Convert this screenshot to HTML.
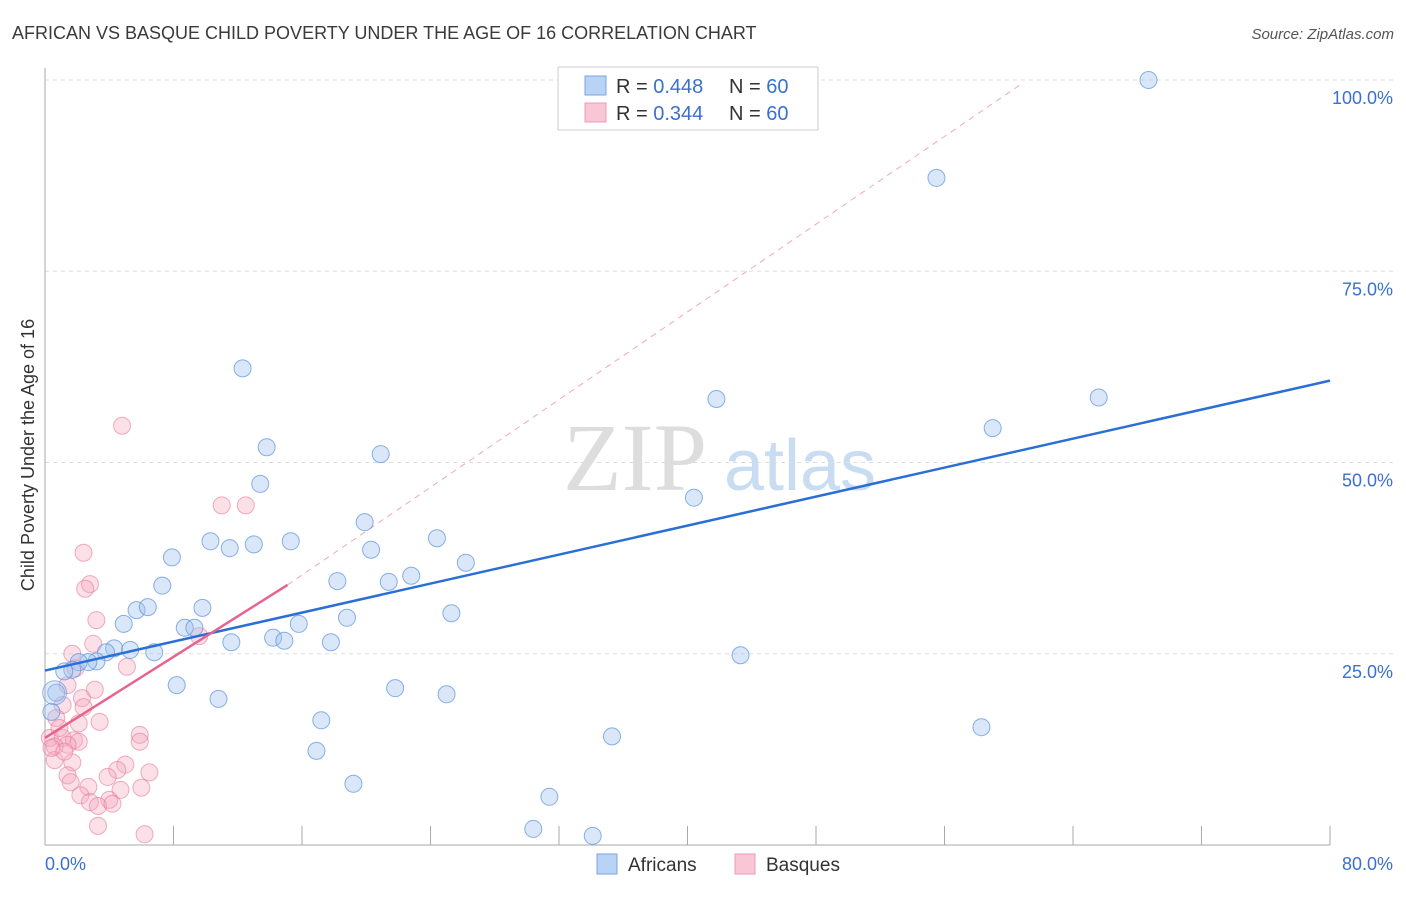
<!DOCTYPE html>
<html><head><meta charset="utf-8"><style>
body{margin:0;background:#fff;font-family:"Liberation Sans",sans-serif;}
</style></head><body>
<svg width="1406" height="892" xmlns="http://www.w3.org/2000/svg">
<text x="12" y="39" font-size="18" fill="#3a3a3a">AFRICAN VS BASQUE CHILD POVERTY UNDER THE AGE OF 16 CORRELATION CHART</text>
<text x="1394" y="39" font-size="15" fill="#555" font-style="italic" text-anchor="end">Source: ZipAtlas.com</text>
<g>
<text x="635" y="490" font-size="96" font-family="Liberation Serif,serif" fill="#ddd" text-anchor="middle">ZIP</text>
<text x="800" y="490" font-size="72" fill="#c8dcf2" text-anchor="middle">atlas</text>
</g>
<g id="grid"></g>
<g id="axes"></g>
<text transform="translate(34,455) rotate(-90)" font-size="18" fill="#333" text-anchor="middle">Child Poverty Under the Age of 16</text>
<g id="marks"></g>
<g>
<rect x="558" y="67" width="260" height="63" fill="#fff" stroke="#ccc"/>
<rect x="585" y="76" width="21" height="19" fill="#b9d3f5" stroke="#7aa6e0"/>
<rect x="585" y="103" width="21" height="19" fill="#f9c6d5" stroke="#ec9bb5"/>
<text x="616" y="93" font-size="20" fill="#333">R = <tspan fill="#3a70d0">0.448</tspan></text>
<text x="729" y="93" font-size="20" fill="#333">N = <tspan fill="#3a70d0">60</tspan></text>
<text x="616" y="120" font-size="20" fill="#333">R = <tspan fill="#3a70d0">0.344</tspan></text>
<text x="729" y="120" font-size="20" fill="#333">N = <tspan fill="#3a70d0">60</tspan></text>
</g>
<g>
<rect x="597" y="854" width="20" height="20" fill="#b9d3f5" stroke="#7aa6e0"/>
<text x="628" y="871" font-size="19" fill="#333">Africans</text>
<rect x="735" y="854" width="20" height="20" fill="#f9c6d5" stroke="#ec9bb5"/>
<text x="766" y="871" font-size="19" fill="#333">Basques</text>
</g>
</svg>
<script>
const blueX=[68.7,55.5,12.3,41.8,65.6,59.0,13.8,20.9,13.4,40.4,19.9,24.4,10.3,13.0,15.3,11.5,20.3,7.9,26.2,22.8,18.2,21.4,7.3,5.7,6.4,9.8,25.3,18.8,15.8,4.9,8.7,9.3,14.2,14.9,11.6,17.8,4.3,5.3,6.8,3.8,43.3,3.2,2.7,2.1,1.7,1.2,8.2,21.8,25.0,0.7,10.8,17.2,58.3,35.3,16.9,19.2,31.4,30.4,34.1,0.4];
const blueY=[100,87.2,62.3,58.3,58.5,54.5,52.0,51.1,47.2,45.4,42.2,40.1,39.7,39.3,39.7,38.8,38.6,37.6,36.9,35.2,34.5,34.4,33.9,30.7,31.1,31.0,30.3,29.7,28.9,28.9,28.4,28.4,27.1,26.7,26.5,26.5,25.7,25.5,25.2,25.2,24.8,24.0,23.9,23.9,22.9,22.7,20.9,20.5,19.7,19.9,19.1,16.3,15.4,14.2,12.3,8.0,6.3,2.1,1.2,17.4];
const pinkX=[4.8,11.0,12.5,2.4,2.8,2.5,3.2,3.0,5.1,1.7,3.1,2.3,2.4,1.1,0.7,0.3,1.1,1.8,2.1,1.4,0.6,5.9,5.9,0.6,1.7,5.0,4.5,6.5,1.4,1.6,3.9,2.7,4.7,2.2,4.0,2.8,3.3,4.2,3.3,6.2,6.0,9.6,0.9,1.4,1.9,0.4,1.2,2.1,3.4];
const pinkY=[54.8,44.4,44.4,38.2,34.1,33.5,29.4,26.3,23.3,25.0,20.3,19.2,18.0,18.3,16.6,14.0,14.0,13.7,13.5,13.1,12.9,14.4,13.5,11.1,10.8,10.5,9.8,9.5,9.1,8.2,8.9,7.6,7.2,6.5,5.9,5.6,5.1,5.4,2.5,1.4,7.5,27.3,15.3,20.9,23.1,12.7,12.2,15.9,16.1];
const xTicks=[0,8,16,24,32,40,48,56,64,72,80];
const yTicks=[25,50,75,100];
const yTickLabels=["25.0%","50.0%","75.0%","100.0%"];
const blueLine=[[0,22.8],[80,60.7]];
const pinkLine=[[0,14.0],[15.1,34.0]];
const pinkDash=[[15.1,34.0],[60.8,99.5]];
const NS="http://www.w3.org/2000/svg";
const X=v=>45+v/80*1285, Y=v=>845-v/100*765;
function mk(p,t,a){const e=document.createElementNS(NS,t);for(const k in a)e.setAttribute(k,a[k]);p.appendChild(e);return e;}
const grid=document.getElementById('grid'),axes=document.getElementById('axes'),marks=document.getElementById('marks');
yTicks.forEach((t,i)=>{const l=mk(grid,'line',{x1:45,x2:1394,y1:Y(t),y2:Y(t),stroke:'#ddd','stroke-dasharray':'4,4'});

const tx=mk(axes,'text',{x:1393,y:Y(t)+24,'font-size':18,fill:'#3a70d0','text-anchor':'end'});tx.textContent=yTickLabels[i];
});
let a=mk(axes,'line',{x1:45,x2:45,y1:68,y2:845,stroke:'#aaa'});
a=mk(axes,'line',{x1:45,x2:1330,y1:845,y2:845,stroke:'#aaa'});
xTicks.slice(1).forEach(t=>{const l=mk(axes,'line',{x1:X(t),x2:X(t),y1:826,y2:845,stroke:'#aaa'});});
let t1=mk(axes,'text',{x:45,y:870,'font-size':18,fill:'#3a70d0'});t1.textContent='0.0%';
t1=mk(axes,'text',{x:1393,y:870,'font-size':18,fill:'#3a70d0','text-anchor':'end'});t1.textContent='80.0%';
let d=mk(marks,'line',{x1:X(pinkDash[0][0]),y1:Y(pinkDash[0][1]),x2:X(pinkDash[1][0]),y2:Y(pinkDash[1][1]),stroke:'#f0a8bd','stroke-dasharray':'6,5','stroke-width':1});

pinkX.forEach((v,i)=>{const c=mk(marks,'circle',{cx:X(v),cy:Y(pinkY[i]),r:8.5,fill:'rgba(244,166,190,0.35)',stroke:'rgba(232,120,155,0.6)','stroke-width':1});
});
blueX.forEach((v,i)=>{const c=mk(marks,'circle',{cx:X(v),cy:Y(blueY[i]),r:8.5,fill:'rgba(160,195,240,0.4)',stroke:'rgba(90,145,220,0.7)','stroke-width':1});
});
let b=mk(marks,'circle',{cx:X(0.6),cy:Y(19.9),r:12,fill:'rgba(160,195,240,0.35)',stroke:'rgba(90,145,220,0.6)'});
let l=mk(marks,'line',{x1:X(blueLine[0][0]),y1:Y(blueLine[0][1]),x2:X(blueLine[1][0]),y2:Y(blueLine[1][1]),stroke:'#2a6fd6','stroke-width':2.5});

l=mk(marks,'line',{x1:X(pinkLine[0][0]),y1:Y(pinkLine[0][1]),x2:X(pinkLine[1][0]),y2:Y(pinkLine[1][1]),stroke:'#e8628e','stroke-width':2.5});

</script>
</body></html>
